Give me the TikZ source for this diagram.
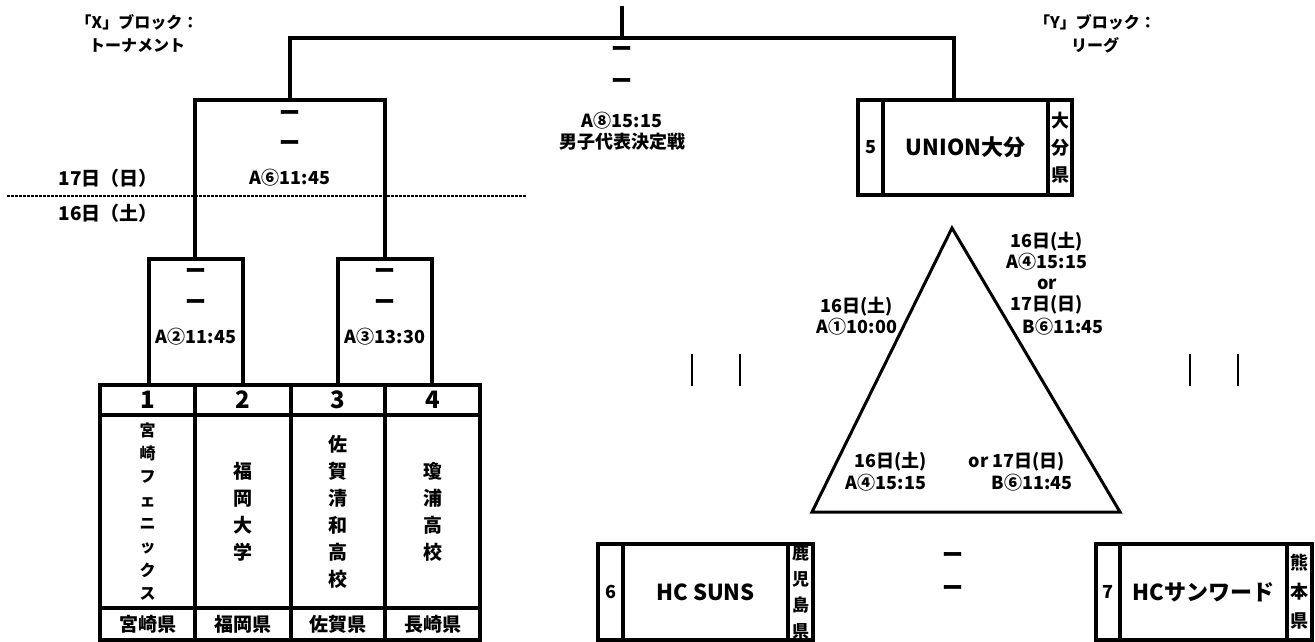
\documentclass[tikz,border=0pt]{standalone}
\usepackage{fontspec}
\setmainfont{Noto Sans CJK JP}
\newcommand\myfs[2]{\fontsize{#1}{#2}\selectfont\bfseries}
\begin{document}
\begin{tikzpicture}[x=1pt,y=-1pt,line width=4pt,line join=miter,
  txt/.style={inner sep=0pt,font=\myfs{18}{21},align=center},
  scoredash/.style={inner sep=0pt,font=\myfs{21}{21}},
  cell/.style={draw,line width=4pt,inner sep=0pt,align=center},
  tri/.style={line width=3pt,line join=miter},
  bar/.style={line width=2.5pt}]
\useasboundingbox (0,0) rectangle (1315,642);
% ---- bracket coordinates
\coordinate (fstem) at (622,6);
\coordinate (ftop) at (622,38);
\coordinate (sftop) at (290,100);
\coordinate (ujoin) at (954,100);
\coordinate (q1top) at (195,259);
\coordinate (q2top) at (385,259);
\coordinate (q1a) at (149,385);
\coordinate (q1b) at (243,385);
\coordinate (q2a) at (338,385);
\coordinate (q2b) at (432,385);
\draw (fstem) -- (ftop);
\draw (sftop) |- (ftop) -| (ujoin);
\draw (q1top) |- (sftop) -| (q2top);
\draw (q1a) |- (q1top) -| (q1b);
\draw (q2a) |- (q2top) -| (q2b);
% ---- dotted day line
\coordinate (dl) at (7,196);
\coordinate (dr) at (527,196);
\draw[line width=1.3pt,dash pattern=on 3pt off 1pt] (dl) -- (dr);
% ---- headings
\node[txt,font=\myfs{16}{23}] (xlab) at (137,34) {「X」ブロック：\\トーナメント};
\node[txt,font=\myfs{16}{23}] (ylab) at (1095,34) {「Y」ブロック：\\リーグ};
% ---- final
\node[scoredash] (fd1) at (622,51) {ー};
\node[scoredash] (fd2) at (622,83) {ー};
\node[txt] (ftime) at (622,131) {A⑧15:15\\男子代表決定戦};
% ---- semifinal
\node[scoredash] (sd1) at (290,115) {ー};
\node[scoredash] (sd2) at (290,145) {ー};
\node[txt] (stime) at (290,178) {A⑥11:45};
\node[txt,font=\myfs{19}{21}] (d17) at (108,178) {17日（日）};
\node[txt,font=\myfs{19}{21}] (d16) at (108,213) {16日（土）};
% ---- quarterfinals
\node[scoredash] (q1d1) at (196,273) {ー};
\node[scoredash] (q1d2) at (196,304) {ー};
\node[txt] (q1time) at (196,337) {A②11:45};
\node[scoredash] (q2d1) at (385,273) {ー};
\node[scoredash] (q2d2) at (385,304) {ー};
\node[txt] (q2time) at (385,337) {A③13:30};
% ---- team table
\node[cell,minimum width=95pt,minimum height=30pt,font=\myfs{24}{24}] (n1) at (147.5,400) {1};
\node[cell,minimum width=96pt,minimum height=30pt,font=\myfs{24}{24}] (n2) at (243,400) {2};
\node[cell,minimum width=94pt,minimum height=30pt,font=\myfs{24}{24}] (n3) at (338,400) {3};
\node[cell,minimum width=95pt,minimum height=30pt,font=\myfs{24}{24}] (n4) at (432.5,400) {4};
\node[cell,minimum width=95pt,minimum height=193pt,font=\myfs{16}{23.3}] (t1) at (147.5,511.5) {宮\\崎\\フ\\ェ\\ニ\\ッ\\ク\\ス};
\node[cell,minimum width=96pt,minimum height=193pt,font=\myfs{19}{27}] (t2) at (243,511.5) {福\\岡\\大\\学};
\node[cell,minimum width=94pt,minimum height=193pt,font=\myfs{19}{27}] (t3) at (338,511.5) {佐\\賀\\清\\和\\高\\校};
\node[cell,minimum width=95pt,minimum height=193pt,font=\myfs{19}{27}] (t4) at (432.5,511.5) {瓊\\浦\\高\\校};
\node[cell,minimum width=95pt,minimum height=32pt,font=\myfs{19}{21}] (p1) at (147.5,624) {宮崎県};
\node[cell,minimum width=96pt,minimum height=32pt,font=\myfs{19}{21}] (p2) at (243,624) {福岡県};
\node[cell,minimum width=94pt,minimum height=32pt,font=\myfs{19}{21}] (p3) at (338,624) {佐賀県};
\node[cell,minimum width=95pt,minimum height=32pt,font=\myfs{19}{21}] (p4) at (432.5,624) {長崎県};
% ---- league boxes
\node[cell,minimum width=25pt,minimum height=95pt,font=\myfs{18}{20}] (n5) at (870.5,147.5) {5};
\node[cell,minimum width=165pt,minimum height=95pt,font=\myfs{22}{24}] (t5) at (965.5,147.5) {UNION大分};
\node[cell,minimum width=24pt,minimum height=95pt,font=\myfs{18}{27}] (p5) at (1060,147.5) {大\\分\\県};
\node[cell,minimum width=25pt,minimum height=96pt,font=\myfs{18}{20}] (n6) at (610.5,592) {6};
\node[cell,minimum width=165pt,minimum height=96pt,font=\myfs{22}{24}] (t6) at (705.5,592) {HC SUNS};
\node[cell,minimum width=25pt,minimum height=96pt,font=\myfs{17}{26}] (p6) at (800.5,592) {鹿\\児\\島\\県};
\node[cell,minimum width=24pt,minimum height=96pt,font=\myfs{18}{20}] (n7) at (1108,592) {7};
\node[cell,minimum width=167pt,minimum height=96pt,font=\myfs{22}{24}] (t7) at (1203.5,592) {HCサンワード};
\node[cell,minimum width=25pt,minimum height=96pt,font=\myfs{18}{29}] (p7) at (1299.5,592) {熊\\本\\県};
% ---- triangle
\coordinate (ta) at (952,228);
\coordinate (tr) at (1120,512);
\coordinate (tl) at (812,512);
\draw[tri] (ta) -- (tr) -- (tl) -- cycle;
\node[txt] (l1) at (857,316) {16日(土)\\A①10:00};
\node[txt] (r1) at (1047,261) {16日(土)\\A④15:15\\or};
\node[txt] (r2) at (1047,305) {17日(日)};
\node[txt] (r3) at (1063,327) {B⑥11:45};
\node[txt] (b1) at (891,462) {16日(土)};
\node[txt] (b2) at (1017,462) {or 17日(日)};
\node[txt] (b3) at (886,483) {A④15:15};
\node[txt] (b4) at (1032,483) {B⑥11:45};
% ---- score bars
\coordinate (v1a) at (692,354); \coordinate (v1b) at (692,386);
\coordinate (v2a) at (740,354); \coordinate (v2b) at (740,386);
\coordinate (v3a) at (1190,354); \coordinate (v3b) at (1190,386);
\coordinate (v4a) at (1238,354); \coordinate (v4b) at (1238,386);
\draw[bar] (v1a) -- (v1b);
\draw[bar] (v2a) -- (v2b);
\draw[bar] (v3a) -- (v3b);
\draw[bar] (v4a) -- (v4b);
\node[scoredash] (md1) at (953,557) {ー};
\node[scoredash] (md2) at (953,590) {ー};
\end{tikzpicture}
\end{document}
